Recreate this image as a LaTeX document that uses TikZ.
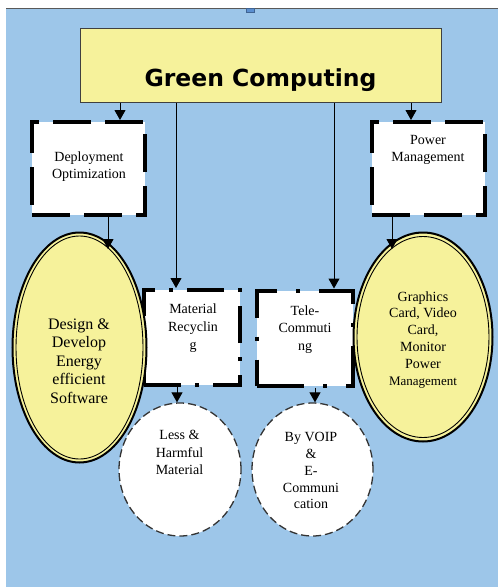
\documentclass[tikz,border=0pt]{standalone}
\usepackage{fontspec}
\setmainfont{Liberation Serif}
\newfontfamily\titlefont{DejaVu Sans}
\usetikzlibrary{arrows.meta,shapes.geometric}
\definecolor{bgblue}{HTML}{9DC6E9}
\definecolor{ylw}{HTML}{F6F29B}
\definecolor{handle}{HTML}{5B8FD0}
\begin{document}
\begin{tikzpicture}[x=1pt,y=-1pt,
  arr/.style={draw=black,line width=1pt,-{Triangle[width=11pt,length=10pt]}},
  bigbox/.style={rectangle,draw=black,fill=white,line width=4pt,
    dash pattern=on 38pt off 14pt,minimum width=113pt,minimum height=93pt,inner sep=0pt},
  matbox/.style={rectangle,draw=black,fill=white,line width=4pt,
    dash pattern=on 37pt off 14pt on 4pt off 14pt,minimum width=96pt,minimum height=95pt,inner sep=0pt},
  telebox/.style={rectangle,draw=black,fill=white,line width=4pt,
    dash pattern=on 47pt off 19pt on 4pt off 19pt,minimum width=96pt,minimum height=95pt,inner sep=0pt},
  ell/.style={ellipse,draw=black,fill=ylw,line width=2pt,inner sep=0pt},
  dcirc/.style={ellipse,draw=black!80,fill=white,line width=1.3pt,dash pattern=on 8pt off 4pt,inner sep=0pt},
  txt/.style={align=center,inner sep=0pt,font=\fontsize{14}{17}\selectfont},
]
\useasboundingbox (0,0) rectangle (498,587);
\fill[white] (0,0) rectangle (498,587);
\fill[bgblue] (6,9) rectangle (498,587);
\draw[line width=1.5pt,black!65] (6,8.3) -- (498,8.3);
\draw[fill=handle,draw=handle!70!black,line width=0.5pt] (246,8) rectangle (254,12);

% title box
\node[rectangle,draw=black!75,fill=ylw,line width=1pt,minimum width=361pt,minimum height=74pt,inner sep=0pt] (gc) at (260.5,65) {};
\node[anchor=base,inner sep=0pt,font=\titlefont\bfseries\fontsize{23.5}{26}\selectfont] (gctxt) at (260.5,86) {Green Computing};

% level-2 boxes
\node[bigbox] (dep) at (88.5,168.5) {};
\node[txt] (deptxt) at (89,166.4) {Deployment\\Optimization};
\node[bigbox] (pow) at (428.5,168.5) {};
\node[txt] (powtxt) at (428,150.3) {Power\\Management};

\node[matbox] (mat) at (192,337.5) {};
\node[txt,font=\fontsize{14}{18}\selectfont] (mattxt) at (193,327.7) {Material\\Recyclin\\g};
\node[telebox] (tele) at (305,338) {};
\node[txt,font=\fontsize{14}{17.5}\selectfont] (teletxt) at (305,329.2) {Tele-\\Commuti\\ng};

% ellipses
\node[ell,minimum width=134pt,minimum height=230pt] (design) at (79.5,347.5) {};
\draw[line width=0.9pt] (design.center) ellipse [x radius=63.5pt,y radius=111.5pt];
\node[txt,font=\fontsize{16}{18.5}\selectfont] (designtxt) at (79,360.9) {Design \&\\Develop\\Energy\\efficient\\Software};

\node[ell,minimum width=139pt,minimum height=209pt] (gfx) at (423,337) {};
\draw[line width=0.9pt] (gfx.center) ellipse [x radius=66pt,y radius=100.5pt];
\node[txt,font=\fontsize{14}{16.8}\selectfont] (gfxtxt) at (423,339.7) {Graphics\\Card, Video\\Card,\\Monitor\\Power\\{\fontsize{13}{16.8}\selectfont Management}};

% dashed circles
\node[dcirc,minimum width=122pt,minimum height=133pt] (less) at (180,469.5) {};
\node[txt,font=\fontsize{14}{17.5}\selectfont] (lesstxt) at (179.5,452.8) {Less \&\\Harmful\\Material};
\node[dcirc,minimum width=121pt,minimum height=133pt] (voip) at (312.5,469.5) {};
\node[txt,font=\fontsize{14}{16.75}\selectfont] (voiptxt) at (311,470.8) {By VOIP\\\&\\E-\\Communi\\cation};

% connectors
\coordinate (c1) at (120,0);
\coordinate (c2) at (176,0);
\coordinate (c3) at (334,0);
\coordinate (c4) at (411,0);
\draw[arr] (gc.south -| c1) -- (dep.north -| c1);
\draw[arr] (gc.south -| c2) -- (mat.north -| c2);
\draw[arr] (gc.south -| c3) -- (tele.north -| c3);
\draw[arr] (gc.south -| c4) -- (pow.north -| c4);

\coordinate (t1) at (108,249);
\coordinate (t2) at (392,249);
\draw[arr] (dep.south -| t1) -- (t1);
\draw[arr] (pow.south -| t2) -- (t2);

\coordinate (c5) at (177,0);
\coordinate (c6) at (315,0);
\draw[arr] (mat.south -| c5) -- (less.north -| c5);
\draw[arr] (tele.south -| c6) -- (voip.north -| c6);
\end{tikzpicture}
\end{document}
